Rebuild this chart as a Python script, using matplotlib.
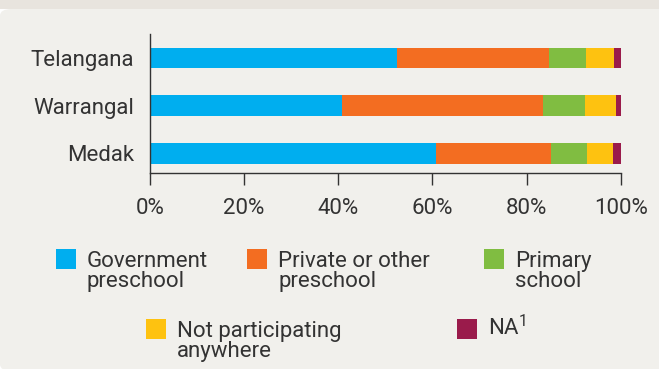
import matplotlib
matplotlib.use('Agg')
import matplotlib.pyplot as plt
from matplotlib.patches import Rectangle, FancyBboxPatch
import numpy as np

# regions and shares (%) of children by where they take part in preschool
regions = ['Telangana', 'Warrangal', 'Medak']
govt = [52.5, 40.8, 60.7]
private = [32.3, 42.8, 24.5]
primary = [7.8, 8.8, 7.7]
not_part = [6.0, 6.6, 5.4]
na = [1.4, 1.0, 1.7]

series = [govt, private, primary, not_part, na]
labels = ['Government\npreschool', 'Private or other\npreschool', 'Primary\nschool',
          'Not participating\nanywhere', r'NA$\mathregular{^{1}}$']
colors = ['#00aeef', '#f36d21', '#80bd41', '#fec210', '#9a1b4b']
xticks = [0, 20, 40, 60, 80, 100]

W, H = 659, 369
bg = '#f1f0ec'
txt = '#333333'
plt.rcParams['font.family'] = ['Roboto', 'DejaVu Sans']

fig = plt.figure(figsize=(W / 100, H / 100), dpi=100, facecolor='white')

def fx(px):
    return px / W

def fy(py):
    return 1 - py / H

# panel background with a rounded lower corner, plus header band
fig.add_artist(FancyBboxPatch((fx(0), fy(371)), fx(720), fy(9) - fy(371),
                              boxstyle='round,pad=0,rounding_size=0.018',
                              transform=fig.transFigure, fc=bg, ec='none', zorder=0))
fig.add_artist(Rectangle((0, fy(9)), 1, 1 - fy(9), transform=fig.transFigure,
                         fc='#e8e4de', ec='none', zorder=0))

ax = fig.add_axes([fx(149.7), fy(173.3), fx(471), fy(34) - fy(173.3)])
ax.set_facecolor('none')

y = np.arange(len(regions))
left = np.zeros(len(regions))
for vals, c in zip(series, colors):
    ax.barh(y, vals, left=left, height=0.44, color=c, edgecolor='none')
    left += np.array(vals)

ax.set_xlim(0, 100)
ax.set_ylim(2.42, -0.504)
ax.set_yticks(y)
ax.set_yticklabels(regions, fontsize=16, color=txt)
ax.set_xticks(xticks)
ax.set_xticklabels([f'{t}%' for t in xticks], fontsize=16, color=txt)
ax.tick_params(axis='y', length=0, pad=11)
ax.tick_params(axis='x', length=8.6, width=1, color=txt, pad=9)
for s in ['top', 'right']:
    ax.spines[s].set_visible(False)
for s in ['left', 'bottom']:
    ax.spines[s].set_color(txt)
    ax.spines[s].set_linewidth(1)

# legend: two rows of colour squares with wrapped labels
pos = [(56, 249), (247, 249), (484, 249), (146, 319), (457, 319)]
for (px, py), c, lab in zip(pos, colors, labels):
    fig.add_artist(Rectangle((fx(px), fy(py + 19.5)), fx(19.5), fy(py) - fy(py + 19.5),
                             transform=fig.transFigure, fc=c, ec='none'))
    base = py + 16 + (22 if '\n' in lab else 0)
    fig.text(fx(px + 31), fy(base), lab, fontsize=16, color=txt,
             ha='left', va='baseline', linespacing=0.95)

fig.savefig('out.png', dpi=100, facecolor=fig.get_facecolor())
